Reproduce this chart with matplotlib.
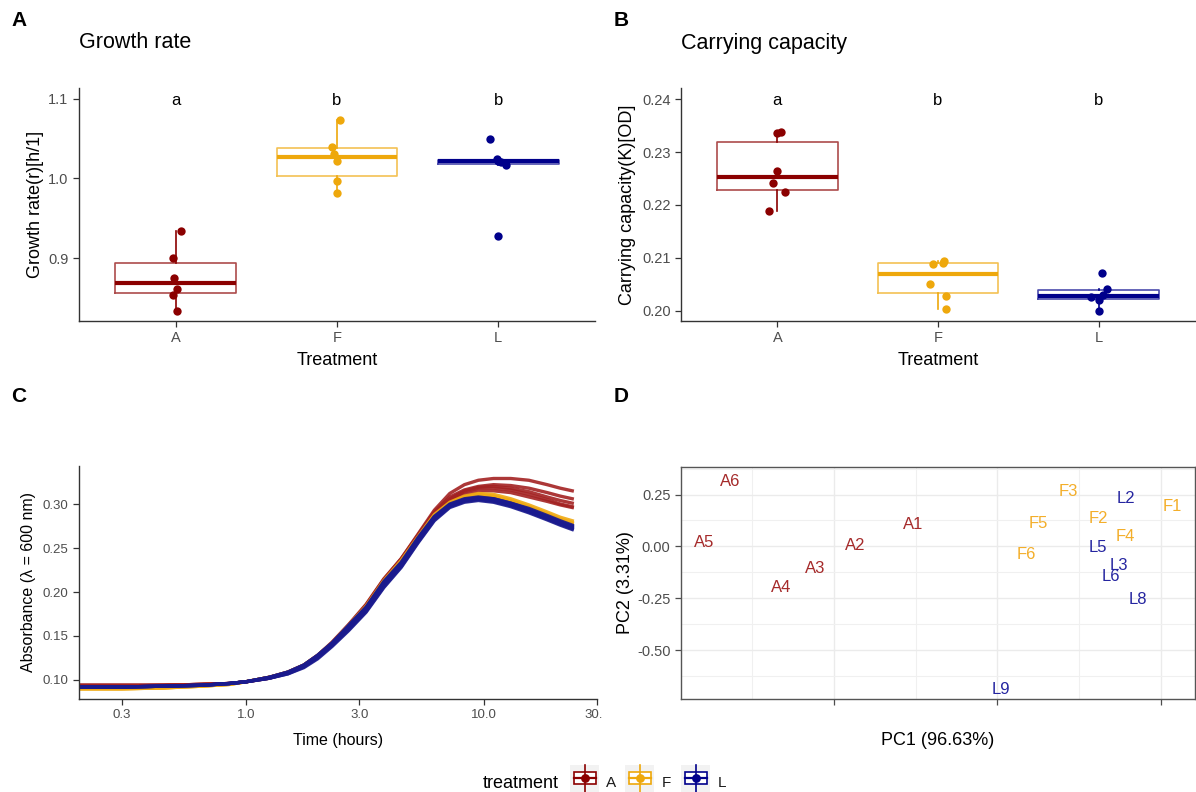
import numpy as np
import matplotlib
matplotlib.use("Agg")
import matplotlib.pyplot as plt
from matplotlib.patches import Rectangle
from matplotlib.lines import Line2D
from matplotlib.transforms import Bbox, TransformedBbox

plt.rcParams['font.family'] = ['Liberation Sans', 'DejaVu Sans']
plt.rcParams['axes.unicode_minus'] = False

# ---------------- data ----------------
treatments = ["A", "F", "L"]
box_colors = {"A": "#8B0000", "F": "#EEA80C", "L": "#00008B"}

growth_A = [0.934, 0.900, 0.875, 0.861, 0.854, 0.833]
growth_F = [1.074, 1.040, 1.031, 1.022, 0.997, 0.982]
growth_L = [1.050, 1.024, 1.022, 1.021, 1.017, 0.928]
growth_jit_A = [0.03, -0.02, -0.01, 0.01, -0.02, 0.01]
growth_jit_F = [0.02, -0.03, -0.02, 0.0, 0.0, 0.0]
growth_jit_L = [-0.05, -0.01, 0.0, 0.02, 0.05, 0.0]

carry_A = [0.2337, 0.2336, 0.2264, 0.2242, 0.2224, 0.2189]
carry_F = [0.2093, 0.2090, 0.2088, 0.2050, 0.2028, 0.2003]
carry_L = [0.2072, 0.2041, 0.2030, 0.2026, 0.2021, 0.1999]
carry_jit_A = [0.02, 0.0, 0.0, -0.03, 0.05, -0.05]
carry_jit_F = [0.04, 0.03, -0.03, -0.05, 0.05, 0.05]
carry_jit_L = [0.02, 0.05, 0.03, -0.05, 0.0, 0.0]

signif_letters = ["a", "b", "b"]

time_h = [0.2, 0.3, 0.45, 0.65, 0.85, 1.0, 1.25, 1.5, 1.75, 2.0, 2.3, 2.7, 3.2,
          3.8, 4.5, 5.3, 6.2, 7.2, 8.3, 9.5, 11.0, 13.0, 15.5, 18.5, 21.0, 23.6]

curves_A = [
    [0.094, 0.094, 0.094, 0.095, 0.096, 0.098, 0.103, 0.109, 0.117, 0.128, 0.142, 0.162, 0.185,
     0.214, 0.238, 0.266, 0.293, 0.312, 0.322, 0.327, 0.329, 0.329, 0.327, 0.322, 0.318, 0.315],
    [0.094, 0.094, 0.094, 0.095, 0.096, 0.098, 0.103, 0.109, 0.117, 0.128, 0.143, 0.163, 0.186,
     0.215, 0.238, 0.265, 0.291, 0.308, 0.316, 0.320, 0.322, 0.321, 0.318, 0.313, 0.309, 0.306],
    [0.094, 0.094, 0.094, 0.095, 0.096, 0.098, 0.103, 0.108, 0.116, 0.127, 0.142, 0.162, 0.185,
     0.214, 0.237, 0.264, 0.290, 0.306, 0.315, 0.319, 0.320, 0.318, 0.314, 0.308, 0.304, 0.301],
    [0.093, 0.093, 0.094, 0.095, 0.096, 0.098, 0.102, 0.108, 0.116, 0.127, 0.141, 0.161, 0.184,
     0.213, 0.236, 0.263, 0.289, 0.305, 0.314, 0.318, 0.318, 0.316, 0.311, 0.305, 0.300, 0.297],
    [0.093, 0.093, 0.094, 0.095, 0.096, 0.098, 0.102, 0.108, 0.116, 0.126, 0.141, 0.161, 0.184,
     0.212, 0.235, 0.262, 0.288, 0.303, 0.311, 0.315, 0.315, 0.313, 0.308, 0.303, 0.299, 0.296],
]
curves_F = [
    [0.090, 0.090, 0.091, 0.093, 0.095, 0.098, 0.103, 0.109, 0.117, 0.128, 0.142, 0.162, 0.184,
     0.213, 0.236, 0.263, 0.288, 0.302, 0.309, 0.312, 0.311, 0.306, 0.299, 0.291, 0.285, 0.281],
    [0.090, 0.090, 0.091, 0.093, 0.095, 0.098, 0.103, 0.108, 0.116, 0.127, 0.141, 0.161, 0.183,
     0.212, 0.235, 0.262, 0.287, 0.301, 0.308, 0.311, 0.309, 0.304, 0.297, 0.289, 0.283, 0.279],
    [0.090, 0.090, 0.091, 0.093, 0.095, 0.098, 0.103, 0.108, 0.116, 0.127, 0.141, 0.160, 0.182,
     0.211, 0.234, 0.261, 0.286, 0.300, 0.307, 0.310, 0.308, 0.303, 0.296, 0.288, 0.282, 0.278],
]
curves_L = [
    [0.092, 0.092, 0.093, 0.094, 0.096, 0.098, 0.103, 0.109, 0.117, 0.128, 0.142, 0.162, 0.183,
     0.212, 0.234, 0.262, 0.286, 0.300, 0.306, 0.308, 0.306, 0.301, 0.295, 0.287, 0.281, 0.276],
    [0.092, 0.092, 0.093, 0.094, 0.096, 0.098, 0.103, 0.108, 0.116, 0.127, 0.141, 0.161, 0.182,
     0.211, 0.233, 0.261, 0.285, 0.299, 0.305, 0.307, 0.305, 0.300, 0.293, 0.285, 0.279, 0.274],
    [0.092, 0.092, 0.093, 0.094, 0.096, 0.098, 0.102, 0.108, 0.115, 0.126, 0.140, 0.159, 0.180,
     0.209, 0.231, 0.259, 0.284, 0.298, 0.304, 0.306, 0.304, 0.299, 0.292, 0.284, 0.278, 0.273],
    [0.092, 0.092, 0.093, 0.094, 0.096, 0.098, 0.102, 0.107, 0.115, 0.125, 0.139, 0.157, 0.178,
     0.206, 0.229, 0.257, 0.282, 0.297, 0.303, 0.305, 0.303, 0.298, 0.291, 0.283, 0.277, 0.272],
    [0.092, 0.092, 0.093, 0.094, 0.096, 0.098, 0.103, 0.109, 0.117, 0.128, 0.142, 0.161, 0.182,
     0.210, 0.232, 0.260, 0.285, 0.299, 0.305, 0.307, 0.306, 0.301, 0.294, 0.286, 0.280, 0.275],
    [0.092, 0.092, 0.093, 0.094, 0.096, 0.098, 0.102, 0.107, 0.114, 0.124, 0.138, 0.156, 0.177,
     0.205, 0.228, 0.256, 0.281, 0.296, 0.302, 0.304, 0.302, 0.297, 0.290, 0.282, 0.276, 0.271],
]
curve_colors = {"A": "#A32222", "F": "#F0AA12", "L": "#1A1A8E"}

pca_labels = ["A1", "A2", "A3", "A4", "A5", "A6",
              "F1", "F2", "F3", "F4", "F5", "F6",
              "L2", "L3", "L5", "L6", "L8", "L9"]
pc1 = [-0.516, -0.868, -1.116, -1.321, -1.793, -1.636,
       1.073, 0.620, 0.437, 0.785, 0.250, 0.179,
       0.785, 0.742, 0.612, 0.693, 0.860, 0.021]
pc2 = [0.106, 0.002, -0.107, -0.199, 0.021, 0.314,
       0.191, 0.133, 0.266, 0.047, 0.109, -0.038,
       0.229, -0.091, -0.006, -0.143, -0.258, -0.691]
pca_colors = {"A": "#A52A2A", "F": "#F3AE2A", "L": "#2525A0"}

# ---------------- figure ----------------
W, H = 1196, 792
fig = plt.figure(figsize=(W / 100, H / 100), dpi=100)

ov = fig.add_axes([0, 0, 1, 1])
ov.set_xlim(0, W)
ov.set_ylim(H, 0)
ov.axis("off")


def px_axes(x0, y0, x1, y1):
    return fig.add_axes([x0 / W, 1 - y1 / H, (x1 - x0) / W, (y1 - y0) / H])


TICK_C = "#4D4D4D"
AX_C = "#333333"


def classic(ax, fs=10.5):
    for s in ["top", "right"]:
        ax.spines[s].set_visible(False)
    for s in ["left", "bottom"]:
        ax.spines[s].set_color(AX_C)
        ax.spines[s].set_linewidth(1.0)
    ax.tick_params(colors=AX_C, labelcolor=TICK_C, labelsize=fs, length=4, width=0.9)
    ax.set_facecolor("none")


def box_panel(ax, data, jits):
    for i, (t, v, j) in enumerate(zip(treatments, data, jits)):
        c = box_colors[t]
        pos = i + 1
        ax.boxplot([v], positions=[pos], widths=0.75, showfliers=False, whis=1.5,
                   showcaps=False, manage_ticks=False,
                   boxprops=dict(color=c, lw=1.2, alpha=0.7),
                   whiskerprops=dict(color=c, lw=1.2),
                   medianprops=dict(color=c, lw=3.0, solid_capstyle="butt"))
        ax.scatter(pos + np.array(j), v, s=36, color=c, zorder=3, linewidths=0)
    ax.set_xlim(0.4, 3.6)
    ax.set_xticks([1, 2, 3])
    ax.set_xticklabels(treatments)
    ax.set_xlabel("Treatment", fontsize=13, labelpad=5)


# Panel A
axA = px_axes(79, 88, 595, 321)
classic(axA)
box_panel(axA, [growth_A, growth_F, growth_L], [growth_jit_A, growth_jit_F, growth_jit_L])
axA.set_ylim(0.8208, 1.1138)
axA.set_yticks([0.9, 1.0, 1.1])
axA.set_yticklabels(["0.9", "1.0", "1.1"])
axA.set_ylabel("Growth rate(r)[h/1]", fontsize=13, labelpad=3)
for i, l in enumerate(signif_letters):
    axA.text(i + 1, 1.098, l, ha="center", va="center", fontsize=12)

# Panel B
axB = px_axes(681, 88, 1195, 321)
classic(axB)
box_panel(axB, [carry_A, carry_F, carry_L], [carry_jit_A, carry_jit_F, carry_jit_L])
axB.set_ylim(0.19805, 0.2421)
yt = [0.20, 0.21, 0.22, 0.23, 0.24]
axB.set_yticks(yt)
axB.set_yticklabels([f"{v:.2f}" for v in yt])
axB.set_ylabel("Carrying capacity(K)[OD]", fontsize=13, labelpad=4)
for i, l in enumerate(signif_letters):
    axB.text(i + 1, 0.2398, l, ha="center", va="center", fontsize=12)

# Panel C
axC = px_axes(79, 466, 597, 699)
classic(axC, fs=9.5)
for key, cl in [("A", curves_A), ("F", curves_F), ("L", curves_L)]:
    for cv in cl:
        axC.plot(time_h, cv, color=curve_colors[key], lw=2.4, alpha=0.9,
                 solid_joinstyle="round")
axC.set_xscale("log")
axC.set_xlim(0.198, 30)
xt = [0.3, 1.0, 3.0, 10.0, 30.0]
axC.set_xticks(xt)
axC.set_xticklabels(["0.3", "1.0", "3.0", "10.0", "30.0"])
axC.minorticks_off()
axC.set_ylim(0.0784, 0.3432)
ytc = [0.10, 0.15, 0.20, 0.25, 0.30]
axC.set_yticks(ytc)
axC.set_yticklabels([f"{v:.2f}" for v in ytc])
axC.set_xlabel("Time (hours)", fontsize=11.5, labelpad=8)
axC.set_ylabel("Absorbance (\u03bb = 600 nm)", fontsize=11.5, labelpad=5)

# Panel D
axD = px_axes(681, 467, 1195, 699)
axD.set_facecolor("white")
for s in axD.spines.values():
    s.set_color("#555555")
    s.set_linewidth(1.0)
axD.set_xlim(-1.935, 1.209)
axD.set_ylim(-0.7356, 0.3827)
axD.set_xticks([-1, 0, 1])
axD.set_xticklabels(["", "", ""])
axD.set_xticks([-1.5, -0.5, 0.5], minor=True)
axD.set_yticks([-0.5, -0.25, 0.0, 0.25])
axD.set_yticklabels(["-0.50", "-0.25", "0.00", "0.25"])
axD.set_yticks([-0.625, -0.375, -0.125, 0.125, 0.375], minor=True)
axD.grid(True, which="major", color="#EBEBEB", lw=1.0)
axD.grid(True, which="minor", color="#F0F0F0", lw=0.8)
axD.set_axisbelow(True)
axD.tick_params(which="major", colors="#4D4D4D", labelcolor=TICK_C, labelsize=10.5, length=4, width=0.9)
axD.tick_params(which="minor", length=0)
for lab, x, y in zip(pca_labels, pc1, pc2):
    axD.text(x, y, lab, color=pca_colors[lab[0]], fontsize=12, ha="center", va="center")
axD.set_xlabel("PC1 (96.63%)", fontsize=13, labelpad=16)
axD.set_ylabel("PC2 (3.31%)", fontsize=13, labelpad=2)

# ---------------- titles and panel letters ----------------
ov.text(11, 21, "A", fontsize=15, fontweight="bold", va="center", ha="left")
ov.text(614, 21, "B", fontsize=15, fontweight="bold", va="center", ha="left")
ov.text(11, 397, "C", fontsize=15, fontweight="bold", va="center", ha="left")
ov.text(614, 397, "D", fontsize=15, fontweight="bold", va="center", ha="left")
ov.text(79, 43, "Growth rate", fontsize=15.5, va="center", ha="left")
ov.text(681, 43, "Carrying capacity", fontsize=15.5, va="center", ha="left")

# ---------------- legend ----------------
ov.text(483, 783, "treatment", fontsize=13, va="center", ha="left")
key_x = [570, 625, 681]
for t, kx in zip(treatments, key_x):
    c = box_colors[t]
    ov.add_patch(Rectangle((kx, 765), 29, 30, facecolor="#F2F2F2", edgecolor="none"))
    cx = kx + 14.5
    ov.add_line(Line2D([cx, cx], [765, 795], color=c, lw=1.2))
    ov.add_patch(Rectangle((kx + 3.5, 772), 22, 12, facecolor="white", edgecolor=c, lw=1.2))
    ov.add_line(Line2D([kx + 3.5, kx + 25.5], [778, 778], color=c, lw=1.6))
    ov.scatter([cx], [778], s=40, color=c, zorder=5, linewidths=0)
    ov.text(kx + 41, 783, t, fontsize=11, va="center", ha="center", color="#1A1A1A")

# clip the "30.0" label at the panel edge like the original
fig.canvas.draw()
clip = TransformedBbox(Bbox([[0, 0], [602 / W, 1]]), fig.transFigure)
for lbl in axC.get_xticklabels():
    lbl.set_clip_box(clip)
    lbl.set_clip_on(True)

fig.savefig("out.png", dpi=100)
